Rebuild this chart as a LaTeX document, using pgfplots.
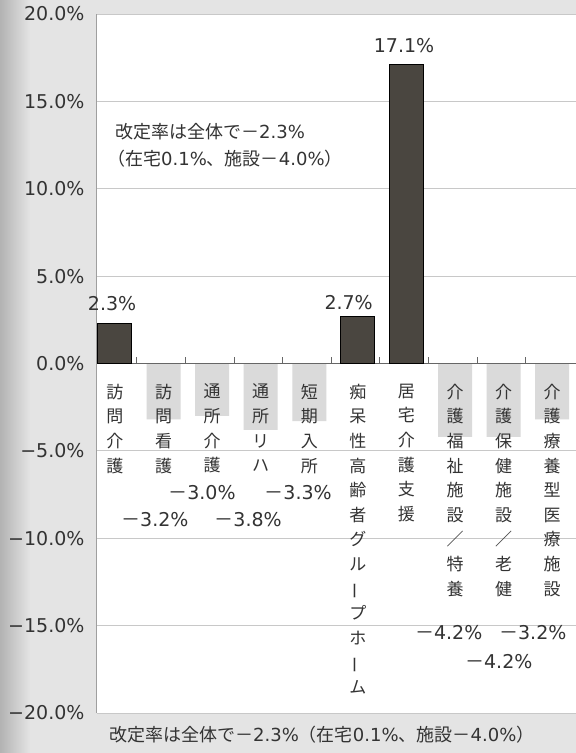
\documentclass[border=0pt]{standalone}
\usepackage{fontspec}
\setmainfont{DejaVu Sans}
\newfontfamily\jp{Noto Sans CJK JP}
\usepackage{graphicx}
\usepackage{pgfplots}
\pgfplotsset{compat=1.18}
\definecolor{txt}{HTML}{333333}
\definecolor{darkbar}{HTML}{4A4640}
\definecolor{lightbar}{HTML}{DADADA}
\definecolor{gridc}{HTML}{C8C8C8}
\definecolor{bg}{HTML}{E4E4E4}
\newcommand{\vb}{\rotatebox[origin=c]{90}{ー}}
\pgfplotsset{common/.style={
  at={(97pt,40pt)}, anchor=south west,
  scale only axis, width=479pt, height=699pt,
  xmin=-0.37, xmax=9.49, ymin=-20, ymax=20}}
\begin{document}
\begin{tikzpicture}[x=1pt,y=1pt]
\fill[bg] (0,0) rectangle (576,753);
\shade[left color=gray!60, right color=bg] (0,0) rectangle (30,753);
\useasboundingbox (0,0) rectangle (576,753);
% layer 1: background and light (negative) bars
\begin{axis}[common, axis lines=none, ticks=none,
  axis background/.style={fill=white}]
\addplot[ybar, bar width=34pt, fill=lightbar, draw=none]
  coordinates {(1,-3.2) (2,-3.0) (3,-3.8) (4,-3.3) (7,-4.2) (8,-4.2) (9,-3.2)};
\end{axis}
% layer 2: grid, axes, labels, dark bars
\begin{axis}[common,
  axis x line*=middle, axis y line*=left,
  hide obscured x ticks=false, hide obscured y ticks=false,
  x axis line style={color=gray!80!black, line width=1.2pt},
  y axis line style={color=gray!75, line width=1pt},
  ytick={-20,-15,...,20},
  yticklabels={−20.0\%,−15.0\%,−10.0\%,−5.0\%,0.0\%,5.0\%,10.0\%,15.0\%,20.0\%},
  ymajorgrids, grid style={gridc, line width=0.9pt},
  ytick style={draw=none}, xtick style={draw=none},
  yticklabel style={font=\fontsize{19}{19}\selectfont, text=txt, anchor=east, xshift=-9pt},
  xtick={0,...,9},
  xticklabels={{訪\\問\\介\\護},{訪\\問\\看\\護},{通\\所\\介\\護},{通\\所\\リ\\ハ},{短\\期\\入\\所},
    {痴\\呆\\性\\高\\齢\\者\\グ\\ル\\\vb\\プ\\ホ\\\vb\\ム},{居\\宅\\介\\護\\支\\援},
    {介\\護\\福\\祉\\施\\設\\／\\特\\養},{介\\護\\保\\健\\施\\設\\／\\老\\健},{介\\護\\療\\養\\型\\医\\療\\施\\設}},
  xticklabel style={font=\jp\fontsize{17}{24.6}\selectfont, align=center, anchor=north, text=txt, yshift=-17pt},
  clip=false,
]
\addplot[ybar, bar width=34pt, fill=darkbar, draw=black, line width=1pt]
  coordinates {(0,2.3) (5,2.7) (6,17.1)};
\pgfplotsinvokeforeach{0.45,1.45,2.45,3.45,4.45,5.45,6.45,7.45,8.45}{
  \draw[gray!80!black, line width=0.8pt] (axis cs:#1,0) -- (axis cs:#1,0.4);
}
\begin{scope}[every node/.style={font=\fontsize{19}{19}\selectfont, text=txt, inner sep=0pt}]
\node at (axis cs:-0.06,3.40) {2.3\%};
\node at (axis cs:4.81,3.46) {2.7\%};
\node at (axis cs:5.95,18.17) {17.1\%};
\node at (axis cs:1.79,-7.41) {{\jp －}3.0\%};
\node at (axis cs:3.77,-7.41) {{\jp －}3.3\%};
\node at (axis cs:0.82,-8.96) {{\jp －}3.2\%};
\node at (axis cs:2.74,-8.96) {{\jp －}3.8\%};
\node at (axis cs:6.87,-15.42) {{\jp －}4.2\%};
\node at (axis cs:8.60,-15.42) {{\jp －}3.2\%};
\node at (axis cs:7.90,-17.08) {{\jp －}4.2\%};
\end{scope}
\begin{scope}[every node/.style={font=\fontsize{18}{18}\selectfont, text=txt, inner sep=0pt, anchor=base west}]
\node at (axis cs:0.0,12.85) {{\jp 改定率は全体で－}2.3\%};
\node[xshift=-8pt] at (axis cs:0.0,11.35) {{\jp （在宅}0.1\%{\jp 、施設－}4.0\%{\jp ）}};
\end{scope}
\end{axis}
\node[anchor=west, font=\fontsize{18}{18}\selectfont, text=txt, inner sep=0pt] at (109,18)
  {{\jp 改定率は全体で－}2.3\%{\jp （在宅}0.1\%{\jp 、施設－}4.0\%{\jp ）}};
\end{tikzpicture}
\end{document}
